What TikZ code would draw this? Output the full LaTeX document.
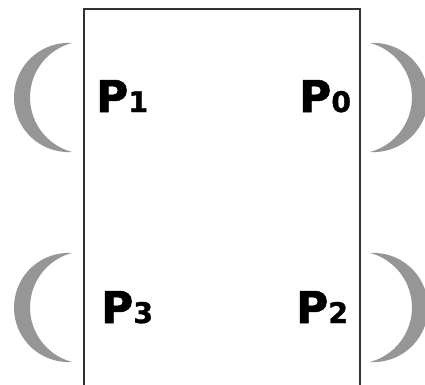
\documentclass[tikz,border=0pt]{standalone}
\usepackage{fontspec}
\setmainfont{DejaVu Sans}
\newfontfamily\heavyfont[FakeBold=1.2]{DejaVu Sans Bold}
\definecolor{crescentgray}{RGB}{150,150,150}
\definecolor{framegray}{RGB}{50,50,50}
\tikzset{
  crescentfill/.style={fill=crescentgray, draw=none},
  frameline/.style={draw=framegray, line width=1.1bp},
  plabel/.style={anchor=base west, inner sep=0pt, font=\heavyfont},
  pics/crescent/.style={code={
    \path[crescentfill] (72,-43) arc[start angle=86.4, end angle=273.6, radius=54.6]
      arc[start angle=255.2, end angle=104.8, radius=56.4] -- cycle;
  }}
}
\newcommand{\plab}[1]{{\fontsize{44}{44}\selectfont P}{\fontsize{28.5}{28.5}\selectfont #1}}
\begin{document}
\begin{tikzpicture}[x=1bp,y=1bp]
\useasboundingbox (0,0) rectangle (425,-385);
% frame (open at the bottom)
\path[frameline] (84,-392) -- (84,-9) -- (360,-9) -- (360,-392);
% crescents
\pic at (0,0) {crescent};
\pic at (0,-210) {crescent};
\pic[transform shape, xscale=-1] at (442,0) {crescent};
\pic[transform shape, xscale=-1] at (442,-210) {crescent};
% labels
\node[plabel] (p1) at (96,-112) {\plab{1}};
\node[plabel] (p0) at (299,-112) {\plab{0}};
\node[plabel] (p3) at (101,-323) {\plab{3}};
\node[plabel] (p2) at (296,-323) {\plab{2}};
\end{tikzpicture}
\end{document}
